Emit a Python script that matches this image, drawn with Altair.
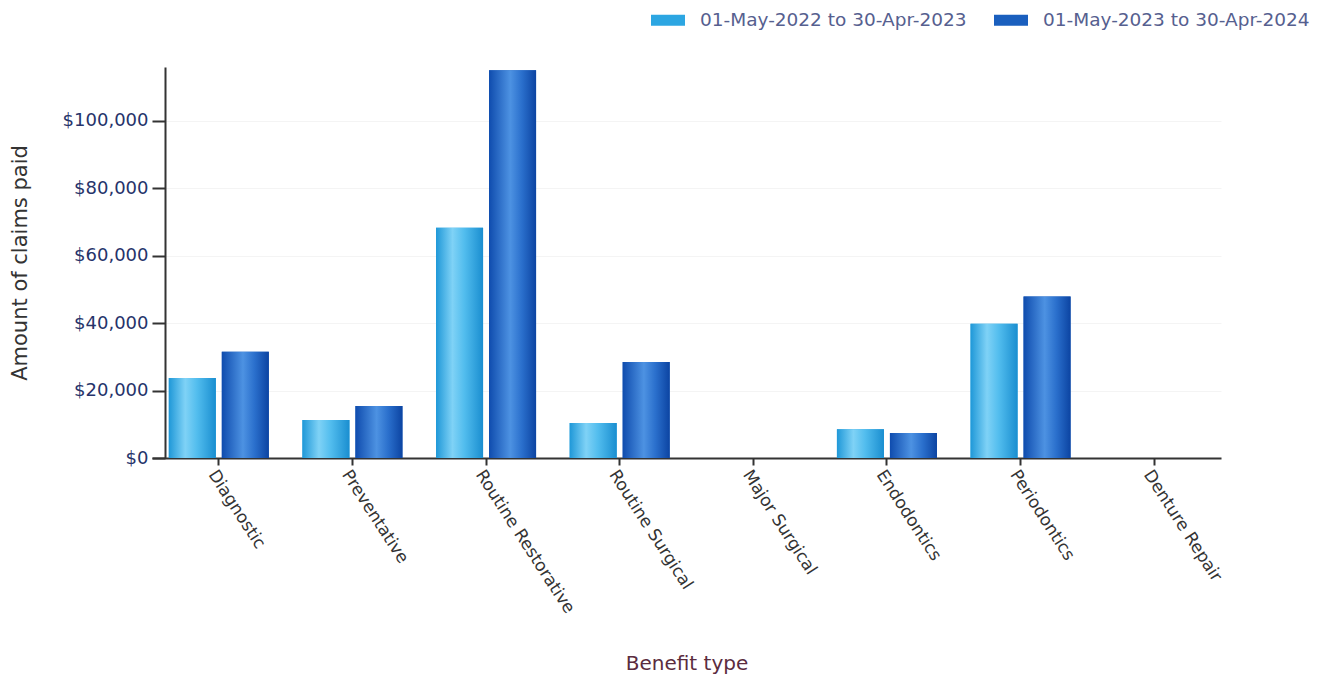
import altair as alt
import pandas as pd

categories = ["Diagnostic", "Preventative", "Routine Restorative", "Routine Surgical",
              "Major Surgical", "Endodontics", "Periodontics", "Denture Repair"]
series = ["01-May-2022 to 30-Apr-2023", "01-May-2023 to 30-Apr-2024"]
paid_2022_23 = [23700, 11300, 68300, 10400, 0, 8550, 39800, 0]
paid_2023_24 = [31500, 15400, 115000, 28500, 0, 7430, 47900, 0]
y_ticks = [0, 20000, 40000, 60000, 80000, 100000]

rows = []
for c, a, b in zip(categories, paid_2022_23, paid_2023_24):
    rows.append({"Benefit type": c, "Period": series[0], "Paid": a})
    rows.append({"Benefit type": c, "Period": series[1], "Paid": b})
df = pd.DataFrame(rows)

FONT = "DejaVu Sans"
light, dark = "#2ca6e2", "#1a5fbe"

x_enc = alt.X(
    "Benefit type:N", sort=categories,
    scale=alt.Scale(paddingInner=0, paddingOuter=0),
    title="Benefit type",
    axis=alt.Axis(labelAngle=57, labelAlign="left", labelBaseline="top",
                  tickSize=7, tickColor="#333333", tickWidth=2,
                  domainColor="#333333", domainWidth=2,
                  labelFont=FONT, labelFontSize=17, labelColor="#333333",
                  labelPadding=2, labelLimit=300,
                  titleFont=FONT, titleFontSize=20, titleColor="#5b2c3e",
                  titleFontWeight="normal", titlePadding=38),
)
xo_enc = alt.XOffset(
    "Period:N", sort=series,
    scale=alt.Scale(domain=series, paddingInner=0.113, paddingOuter=0.317),
)
y_enc = alt.Y(
    "Paid:Q",
    scale=alt.Scale(domain=[0, 116000], nice=False),
    title="Amount of claims paid",
    axis=alt.Axis(values=y_ticks, format="$,.0f", offset=-13,
                  tickSize=13, tickColor="#333333", tickWidth=2,
                  domainColor="#333333", domainWidth=2,
                  labelFont=FONT, labelFontSize=18, labelColor="#26336a",
                  labelPadding=4,
                  titleFont=FONT, titleFontSize=21, titleColor="#333333",
                  titleFontWeight="normal", titlePadding=32,
                  grid=True, gridColor="#f4f4f4", gridWidth=1),
)

base = alt.Chart(df).mark_bar().encode(
    x=x_enc, xOffset=xo_enc, y=y_enc,
    color=alt.Color("Period:N", sort=series,
                    scale=alt.Scale(domain=series, range=[light, dark]),
                    legend=alt.Legend(orient="none", legendX=499, legendY=-64,
                                      direction="horizontal", title=None,
                                      symbolType="M-1,-0.32H1V0.32H-1Z",
                                      symbolSize=1156, symbolStrokeWidth=0,
                                      symbolOpacity=1,
                                      labelFont=FONT, labelFontSize=18.5,
                                      labelColor="#56608f", labelLimit=400,
                                      columnPadding=27, labelOffset=15)),
)

grad_light = alt.LinearGradient(
    gradient="linear", x1=0, x2=1, y1=0, y2=0,
    stops=[alt.GradientStop(offset=0, color="#1f98d8"),
           alt.GradientStop(offset=0.35, color="#7fd2f6"),
           alt.GradientStop(offset=0.6, color="#52bdee"),
           alt.GradientStop(offset=1, color="#1a8ed0")])
grad_dark = alt.LinearGradient(
    gradient="linear", x1=0, x2=1, y1=0, y2=0,
    stops=[alt.GradientStop(offset=0, color="#0f4cae"),
           alt.GradientStop(offset=0.45, color="#4d92e2"),
           alt.GradientStop(offset=0.7, color="#2a6fcc"),
           alt.GradientStop(offset=1, color="#0c44a2")])

layer_light = alt.Chart(df).mark_bar(fill=grad_light).transform_filter(
    alt.datum.Period == series[0]).encode(x=x_enc, xOffset=xo_enc, y=y_enc)
layer_dark = alt.Chart(df).mark_bar(fill=grad_dark).transform_filter(
    alt.datum.Period == series[1]).encode(x=x_enc, xOffset=xo_enc, y=y_enc)

chart = alt.layer(base, layer_light, layer_dark).properties(
    width=1069, height=391,
    autosize=alt.AutoSizeParams(type="none"),
    padding={"left": 152, "top": 67, "right": 110, "bottom": 218},
    background="white",
).configure_view(stroke=None)

chart.save("out.html", embed_options={"renderer": "svg", "actions": False})
